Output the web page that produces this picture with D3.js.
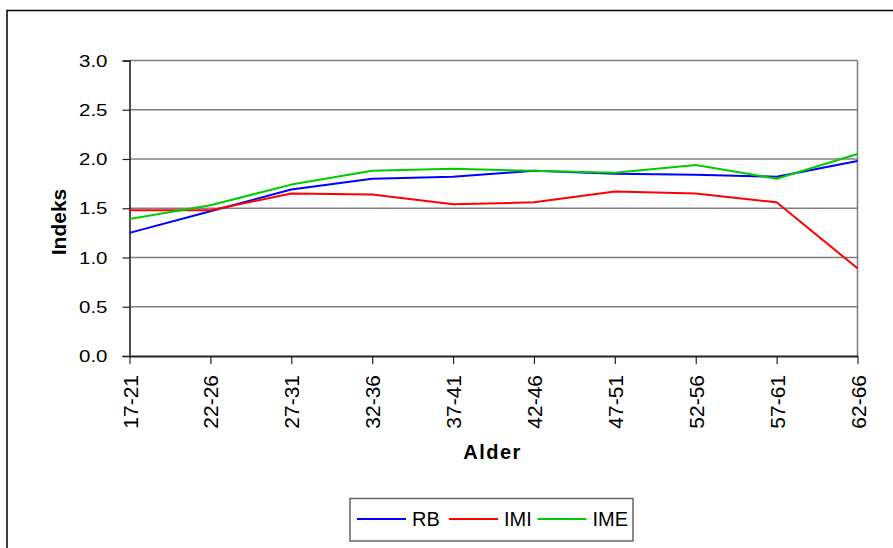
<!DOCTYPE html>
<html>
<head>
<meta charset="utf-8">
<script src="https://cdn.jsdelivr.net/npm/d3@7"></script>
<style>
  html, body { margin: 0; padding: 0; background: #fff; }
  svg { display: block; }
  text { font-family: Arial, "Liberation Sans", sans-serif; fill: #000; }
</style>
</head>
<body>
<svg id="chart" width="893" height="548"></svg>
<script>
const categories = ["17-21","22-26","27-31","32-36","37-41","42-46","47-51","52-56","57-61","62-66"];
const rbValues  = [1.25, 1.47, 1.69, 1.80, 1.82, 1.88, 1.85, 1.84, 1.82, 1.98];
const imiValues = [1.48, 1.48, 1.65, 1.64, 1.54, 1.56, 1.67, 1.65, 1.56, 0.89];
const imeValues = [1.39, 1.53, 1.74, 1.88, 1.90, 1.88, 1.86, 1.94, 1.80, 2.05];
const yTicks = [0, 0.5, 1.0, 1.5, 2.0, 2.5, 3.0];
const seriesNames = ["RB", "IMI", "IME"];
const seriesColors = ["#0000FF", "#FF0000", "#00CC00"];

(function () {
const series = [rbValues, imiValues, imeValues].map((v, i) => ({name: seriesNames[i], values: v, color: seriesColors[i]}));

const svg = d3.select("#chart");
const pLeft = 129.5, pRight = 857.5, pTop = 60.5, pBottom = 356;

// outer frame
svg.append("rect").attr("x", 7).attr("y", 10.5).attr("width", 900).attr("height", 560)
  .attr("fill", "none").attr("stroke", "#000").attr("stroke-width", 1.5);

const x = d3.scalePoint().domain(categories).range([pLeft, pRight]);
const y = d3.scaleLinear().domain([0, 3]).range([pBottom, pTop]);

// gridlines
svg.append("g").selectAll("line").data(yTicks.filter(t => t > 0)).join("line")
  .attr("x1", pLeft).attr("x2", pRight).attr("y1", d => y(d)).attr("y2", d => y(d))
  .attr("stroke", "#808080").attr("stroke-width", 1.6);
// right border
svg.append("line").attr("x1", pRight).attr("x2", pRight).attr("y1", pTop).attr("y2", pBottom)
  .attr("stroke", "#808080").attr("stroke-width", 1.6);

// y axis
const yAxis = svg.append("g").attr("transform", `translate(${pLeft},0)`)
  .call(d3.axisLeft(y).tickValues(yTicks).tickSize(7).tickPadding(0).tickFormat(d3.format(".1f")));
yAxis.select(".domain").attr("stroke", "#222").attr("stroke-width", 1.6);
yAxis.selectAll(".tick line").attr("stroke", "#222").attr("stroke-width", 1.2);
yAxis.selectAll(".tick text")
  .attr("x", null).attr("dy", null)
  .attr("font-size", 16)
  .attr("text-anchor", "end")
  .attr("transform", "translate(-22,5.5) scale(1.28,1)");

// x axis
const xAxis = svg.append("g").attr("transform", `translate(0,${pBottom})`)
  .call(d3.axisBottom(x).tickSize(8).tickSizeOuter(0));
xAxis.select(".domain").attr("stroke", "#222").attr("stroke-width", 1.8);
xAxis.selectAll(".tick line").attr("stroke", "#222").attr("stroke-width", 1.2);
xAxis.selectAll(".tick text")
  .attr("y", null).attr("dy", null)
  .attr("font-size", 21)
  .attr("text-anchor", "end")
  .attr("dominant-baseline", "central")
  .attr("transform", "translate(0,19) rotate(-90)");

// lines
const line = d3.line().x((d, i) => x(categories[i])).y(d => y(d));
svg.append("g").selectAll("path").data(series).join("path")
  .attr("d", d => line(d.values))
  .attr("fill", "none").attr("stroke", d => d.color).attr("stroke-width", 2)
  .attr("stroke-linejoin", "round");

// axis titles
svg.append("text").attr("transform", "translate(66,222) rotate(-90)")
  .attr("text-anchor", "middle").attr("font-size", 21).attr("font-weight", "bold").text("Indeks");
svg.append("text").attr("x", 492.5).attr("y", 459)
  .attr("text-anchor", "middle").attr("font-size", 20).attr("font-weight", "bold")
  .attr("letter-spacing", 1.5).text("Alder");

// legend
const legend = svg.append("g");
legend.append("rect").attr("x", 350).attr("y", 498.5).attr("width", 283).attr("height", 42.5)
  .attr("fill", "#fff").attr("stroke", "#666").attr("stroke-width", 1.5);
const legX = [357, 449, 537.5];
const items = legend.selectAll("g.item").data(series).join("g").attr("class", "item")
  .attr("transform", (d, i) => `translate(${legX[i]},519)`);
items.append("line").attr("x1", 0).attr("x2", 49).attr("y1", 0).attr("y2", 0)
  .attr("stroke", d => d.color).attr("stroke-width", 2);
items.append("text").attr("x", 55).attr("y", 7).attr("font-size", 20).text(d => d.name);
})();
</script>
</body>
</html>
